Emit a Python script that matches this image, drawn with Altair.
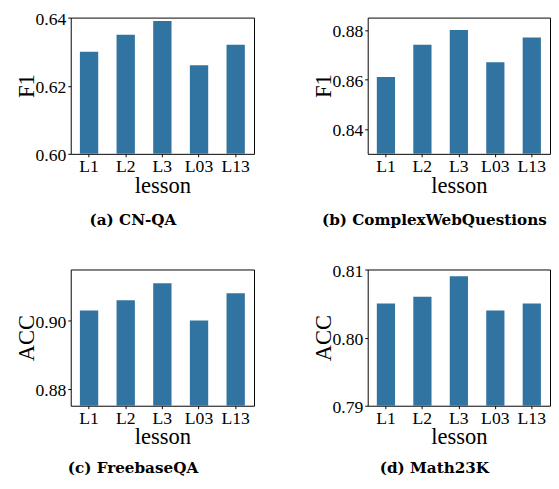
import altair as alt
import pandas as pd

lessons = ["L1", "L2", "L3", "L03", "L13"]

cnqa_f1 = [0.630, 0.635, 0.639, 0.626, 0.632]
cwq_f1 = [0.861, 0.874, 0.880, 0.867, 0.877]
fbqa_acc = [0.903, 0.906, 0.911, 0.900, 0.908]
math_acc = [0.805, 0.806, 0.809, 0.804, 0.805]

captions = ["(a) CN-QA", "(b) ComplexWebQuestions", "(c) FreebaseQA", "(d) Math23K"]
metrics = ["F1", "F1", "ACC", "ACC"]
domains = [[0.60, 0.64], [0.830, 0.885], [0.875, 0.915], [0.79, 0.81]]
ticks = [[0.60, 0.62, 0.64], [0.84, 0.86, 0.88], [0.88, 0.90], [0.79, 0.80, 0.81]]

BAR = "#3274A1"
SERIF = "Liberation Serif"
H = 139


def panel(vals, metric, domain, tvals, caption, width, cap_offset, cap_dx):
    df = pd.DataFrame({"lesson": lessons, "value": vals})
    title = alt.Title(
        caption,
        orient="bottom",
        anchor="middle",
        frame="bounds",
        font="DejaVu Serif",
        fontWeight="bold",
        fontSize=15.5,
        color="black",
        baseline="alphabetic",
        offset=cap_offset,
        dx=cap_dx,
    )
    return (
        alt.Chart(df, title=title)
        .mark_bar(color=BAR, clip=True)
        .encode(
            x=alt.X(
                "lesson:N",
                sort=lessons,
                scale=alt.Scale(paddingInner=0.5, paddingOuter=0.25),
                axis=alt.Axis(
                    title="lesson",
                    labelAngle=0,
                    labelPadding=1,
                    titleBaseline="alphabetic",
                    titleX=width / 2,
                    titleY=39,
                ),
            ),
            y=alt.Y(
                "value:Q",
                scale=alt.Scale(domain=domain, zero=False, nice=False),
                axis=alt.Axis(
                    title=metric,
                    values=tvals,
                    format=".2f",
                    labelPadding=2,
                    labelOffset=2,
                    titleBaseline="alphabetic",
                    titleAngle=-90,
                    titleX=-38,
                    titleY=H / 2,
                ),
            ),
        )
        .properties(width=width, height=H)
    )


pa = panel(cnqa_f1, metrics[0], domains[0], ticks[0], captions[0], 187, 29, -2)
pb = panel(cwq_f1, metrics[1], domains[1], ticks[1], captions[1], 186, 29, 3)
pc = panel(fbqa_acc, metrics[2], domains[2], ticks[2], captions[2], 187, 25, -2)
pd_ = panel(math_acc, metrics[3], domains[3], ticks[3], captions[3], 186, 25, 3)

chart = (
    alt.concat(pa, pb, pc, pd_, columns=2, spacing={"row": 118, "column": 116}, bounds="flush")
    .properties(padding={"left": 7, "top": -3, "right": 0, "bottom": 0})
    .configure_view(stroke="black", strokeWidth=1)
    .configure_axis(
        grid=False,
        domain=False,
        tickColor="black",
        tickSize=3,
        tickWidth=1,
        labelFont=SERIF,
        labelFontSize=18,
        labelColor="black",
        titleFont=SERIF,
        titleFontSize=23,
        titleFontWeight="normal",
        titleColor="black",
    )
)

chart.save("out.html", embed_options={"renderer": "svg", "actions": False})
